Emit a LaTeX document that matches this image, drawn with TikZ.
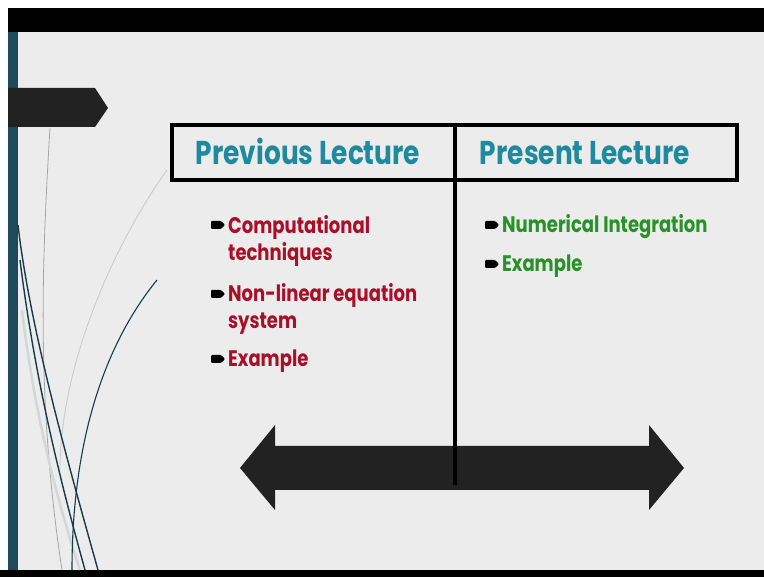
\documentclass[tikz,border=0pt]{standalone}
\usepackage{fontspec}
\usepackage{tikz}
\newfontfamily\slidefont[FakeStretch=0.8]{Poppins}
\definecolor{slidegray}{HTML}{ECECEC}
\definecolor{barteal}{HTML}{1E4A5C}
\definecolor{headteal}{HTML}{1F8A9E}
\definecolor{oldred}{HTML}{A8102A}
\definecolor{newgreen}{HTML}{279227}
\definecolor{arrowblack}{HTML}{222222}
\tikzset{
  headtext/.style={anchor=base, font=\slidefont\bfseries\fontsize{33}{36}\selectfont, text=headteal, inner sep=0pt},
  oldpoint/.style={anchor=base west, align=left, font=\slidefont\bfseries\fontsize{22.5}{27.5}\selectfont, text=oldred, inner sep=0pt},
  newpoint/.style={anchor=base west, align=left, font=\slidefont\bfseries\fontsize{22.5}{27.5}\selectfont, text=newgreen, inner sep=0pt}
}
\newcommand{\bulletmark}[1]{\fill[black,rounded corners=1pt] #1 ++(0,-4) -- ++(10,0) -- ++(4,4) -- ++(-4,4) -- ++(-10,0) -- cycle;}

\begin{document}
\begin{tikzpicture}[x=1pt,y=-1pt]
\useasboundingbox (0,0) rectangle (764,577);
\fill[white] (0,0) rectangle (764,577);
\fill[slidegray] (8,32) rectangle (764,570);
\fill[black] (8,8) rectangle (764,32);
\fill[black] (0,570) rectangle (764,577);
\fill[barteal] (8,32) rectangle (18,570);

\draw[gray!70, line width=0.8pt] (50,128) .. controls (42,260) and (36,400) .. (62,570);
\draw[black!20, line width=0.9pt] (167,170) .. controls (110,250) and (60,370) .. (60,470);
\draw[cyan!15!black!20, line width=2.5pt] (22,310) .. controls (35,420) and (60,510) .. (80,570);
\draw[barteal!80!black, line width=1.4pt] (18,225) .. controls (30,330) and (70,470) .. (98,570);
\draw[barteal!80!black, line width=1.4pt] (20,260) .. controls (35,380) and (60,480) .. (85,570);
\draw[barteal!80!black, line width=1.1pt] (157,280) .. controls (100,350) and (72,450) .. (72,570);

\fill[arrowblack] (8,88) -- (95,88) -- (108,108) -- (95,127) -- (8,127) -- cycle;

\draw[black, line width=4pt] (172,125) rectangle (737,180);
\node[headtext] (prevhead) at (308,165) {Previous Lecture};
\node[headtext] (preshead) at (585,165) {Present Lecture};

\node[oldpoint] (oldone) at (228,261) {Computational\\techniques};
\node[oldpoint] (oldtwo) at (228,329) {Non-linear equation\\system};
\node[oldpoint] (oldthree) at (228,367) {Example};
\bulletmark{(211,225)}
\bulletmark{(211,294)}
\bulletmark{(211,359)}

\node[newpoint] (newone) at (502,233) {Numerical Integration};
\node[newpoint] (newtwo) at (502,272) {Example};
\bulletmark{(485,225)}
\bulletmark{(485,264)}

\fill[arrowblack] (240,468) -- (275,425) -- (275,446) -- (649,446) -- (649,425) -- (684,468)
  -- (649,510) -- (649,490) -- (275,490) -- (275,510) -- cycle;
\draw[black, line width=3.5pt] (455,125) -- (455,485);
\end{tikzpicture}
\end{document}
